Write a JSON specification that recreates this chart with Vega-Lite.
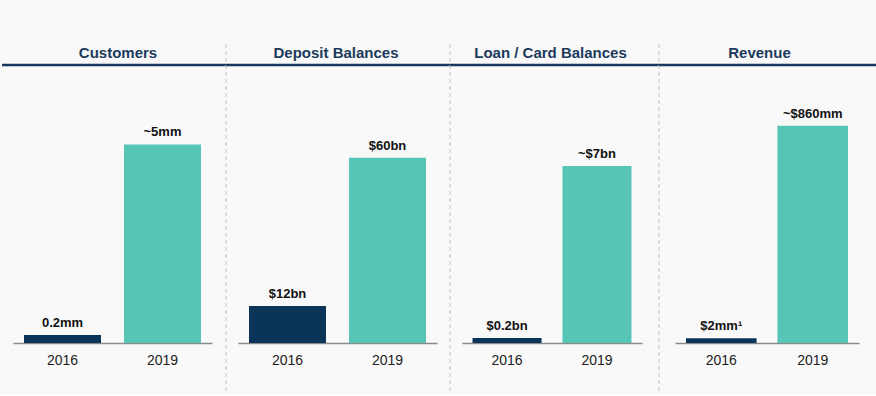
{
  "$schema": "https://vega.github.io/schema/vega-lite/v6.json",
  "background": "#f9f9f9",
  "padding": {"top": 43, "left": 0, "right": 0, "bottom": 0},
  "spacing": 0,
  "bounds": "flush",
  "config": {
    "view": {"stroke": null},
    "font": "Liberation Sans",
    "title": {"fontSize": 15, "fontWeight": "bold", "color": "#1b3a5c", "offset": -17.5, "anchor": "middle", "frame": "group", "font": "Liberation Sans"},
    "axisX": {"domainColor": "#8a8a8a", "domainWidth": 1.5, "ticks": false, "labelFont": "Liberation Sans", "labelFontSize": 14, "labelColor": "#222222", "labelPadding": 10, "labelAngle": 0, "title": null, "grid": false}
  },
  "datasets": {
    "kpi": [
      {"panel": "Customers", "year": "2016", "value": 0.2, "label": "0.2mm"},
      {"panel": "Customers", "year": "2019", "value": 5, "label": "~5mm"},
      {"panel": "Deposit Balances", "year": "2016", "value": 12, "label": "$12bn"},
      {"panel": "Deposit Balances", "year": "2019", "value": 60, "label": "$60bn"},
      {"panel": "Loan / Card Balances", "year": "2016", "value": 0.2, "label": "$0.2bn"},
      {"panel": "Loan / Card Balances", "year": "2019", "value": 7, "label": "~$7bn"},
      {"panel": "Revenue", "year": "2016", "value": 19, "label": "$2mm¹"},
      {"panel": "Revenue", "year": "2019", "value": 860, "label": "~$860mm"}
    ],
    "deco": [{}]
  },
  "hconcat": [
    {
      "width": 224, "height": 278,
      "title": {"text": "Customers", "dx": 4},
      "layer": [
        {
          "data": {"name": "kpi"},
          "transform": [{"filter": "datum.panel === 'Customers'"}],
          "mark": {"type": "bar"},
          "encoding": {
            "x": {"field": "year", "type": "nominal", "scale": {"range": [11, 210], "paddingInner": 0.23, "paddingOuter": 0.11}},
            "y": {"field": "value", "type": "quantitative", "scale": {"domain": [0, 6.95]}, "axis": null},
            "color": {"field": "year", "type": "nominal", "scale": {"domain": ["2016", "2019"], "range": ["#0b3558", "#57c5b6"]}, "legend": null}
          }
        },
        {
          "data": {"name": "kpi"},
          "transform": [{"filter": "datum.panel === 'Customers'"}],
          "mark": {"type": "text", "baseline": "alphabetic", "dy": -8, "fontSize": 13, "fontWeight": "bold", "color": "#111111"},
          "encoding": {
            "x": {"field": "year", "type": "nominal"},
            "y": {"field": "value", "type": "quantitative"},
            "text": {"field": "label"}
          }
        },
        {
          "data": {"name": "deco"},
          "mark": {"type": "rule", "color": "#17375e", "strokeWidth": 2.5},
          "encoding": {"x": {"value": 0}, "x2": {"value": "width"}, "y": {"value": 0}}
        },
        {
          "data": {"name": "deco"},
          "mark": {"type": "rule", "color": "#d4d4d4", "strokeWidth": 1.5, "strokeDash": [4, 3]},
          "encoding": {"x": {"value": "width"}, "y": {"value": -21}, "y2": {"value": 329}}
        }
      ]
    },
    {
      "width": 224, "height": 278,
      "title": {"text": "Deposit Balances", "dx": -2},
      "layer": [
        {
          "data": {"name": "kpi"},
          "transform": [{"filter": "datum.panel === 'Deposit Balances'"}],
          "mark": {"type": "bar"},
          "encoding": {
            "x": {"field": "year", "type": "nominal", "scale": {"range": [12, 211], "paddingInner": 0.23, "paddingOuter": 0.11}},
            "y": {"field": "value", "type": "quantitative", "scale": {"domain": [0, 81.4]}, "axis": null},
            "color": {"field": "year", "type": "nominal", "scale": {"domain": ["2016", "2019"], "range": ["#0b3558", "#57c5b6"]}, "legend": null}
          }
        },
        {
          "data": {"name": "kpi"},
          "transform": [{"filter": "datum.panel === 'Deposit Balances'"}],
          "mark": {"type": "text", "baseline": "alphabetic", "dy": -8, "fontSize": 13, "fontWeight": "bold", "color": "#111111"},
          "encoding": {
            "x": {"field": "year", "type": "nominal"},
            "y": {"field": "value", "type": "quantitative"},
            "text": {"field": "label"}
          }
        },
        {
          "data": {"name": "deco"},
          "mark": {"type": "rule", "color": "#17375e", "strokeWidth": 2.5},
          "encoding": {"x": {"value": 0}, "x2": {"value": "width"}, "y": {"value": 0}}
        },
        {
          "data": {"name": "deco"},
          "mark": {"type": "rule", "color": "#d4d4d4", "strokeWidth": 1.5, "strokeDash": [4, 3]},
          "encoding": {"x": {"value": "width"}, "y": {"value": -21}, "y2": {"value": 329}}
        }
      ]
    },
    {
      "width": 209, "height": 278,
      "title": {"text": "Loan / Card Balances", "dx": -4},
      "layer": [
        {
          "data": {"name": "kpi"},
          "transform": [{"filter": "datum.panel === 'Loan / Card Balances'"}],
          "mark": {"type": "bar"},
          "encoding": {
            "x": {"field": "year", "type": "nominal", "scale": {"range": [12, 192], "paddingInner": 0.233, "paddingOuter": 0.117}},
            "y": {"field": "value", "type": "quantitative", "scale": {"domain": [0, 10.75]}, "axis": null},
            "color": {"field": "year", "type": "nominal", "scale": {"domain": ["2016", "2019"], "range": ["#0b3558", "#57c5b6"]}, "legend": null}
          }
        },
        {
          "data": {"name": "kpi"},
          "transform": [{"filter": "datum.panel === 'Loan / Card Balances'"}],
          "mark": {"type": "text", "baseline": "alphabetic", "dy": -8, "fontSize": 13, "fontWeight": "bold", "color": "#111111"},
          "encoding": {
            "x": {"field": "year", "type": "nominal"},
            "y": {"field": "value", "type": "quantitative"},
            "text": {"field": "label"}
          }
        },
        {
          "data": {"name": "deco"},
          "mark": {"type": "rule", "color": "#17375e", "strokeWidth": 2.5},
          "encoding": {"x": {"value": 0}, "x2": {"value": "width"}, "y": {"value": 0}}
        },
        {
          "data": {"name": "deco"},
          "mark": {"type": "rule", "color": "#d4d4d4", "strokeWidth": 1.5, "strokeDash": [4, 3]},
          "encoding": {"x": {"value": "width"}, "y": {"value": -21}, "y2": {"value": 329}}
        }
      ]
    },
    {
      "width": 219, "height": 278,
      "title": {"text": "Revenue", "dx": -9, "offset": 3},
      "layer": [
        {
          "data": {"name": "kpi"},
          "transform": [{"filter": "datum.panel === 'Revenue'"}],
          "mark": {"type": "bar"},
          "encoding": {
            "x": {"field": "year", "type": "nominal", "scale": {"range": [16, 200], "paddingInner": 0.228, "paddingOuter": 0.12}},
            "y": {"field": "value", "type": "quantitative", "scale": {"domain": [0, 1058]}, "axis": null},
            "color": {"field": "year", "type": "nominal", "scale": {"domain": ["2016", "2019"], "range": ["#0b3558", "#57c5b6"]}, "legend": null}
          }
        },
        {
          "data": {"name": "kpi"},
          "transform": [{"filter": "datum.panel === 'Revenue'"}],
          "mark": {"type": "text", "baseline": "alphabetic", "dy": -8, "fontSize": 13, "fontWeight": "bold", "color": "#111111"},
          "encoding": {
            "x": {"field": "year", "type": "nominal"},
            "y": {"field": "value", "type": "quantitative"},
            "text": {"field": "label"}
          }
        },
        {
          "data": {"name": "deco"},
          "mark": {"type": "rule", "color": "#17375e", "strokeWidth": 2.5},
          "encoding": {"x": {"value": 0}, "x2": {"value": "width"}, "y": {"value": 0}}
        }
      ]
    }
  ]
}
